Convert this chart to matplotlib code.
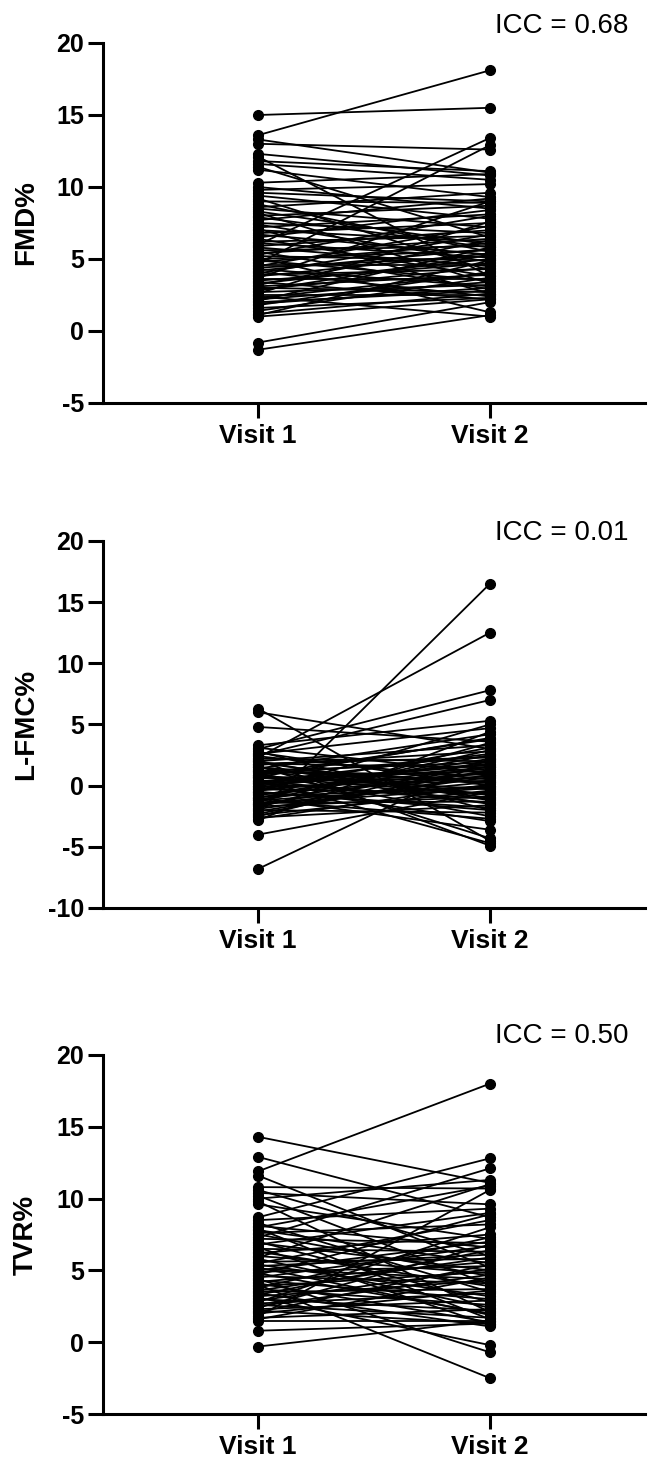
import matplotlib
matplotlib.use("Agg")
import matplotlib.pyplot as plt
import numpy as np

plt.rcParams['font.family'] = ['Liberation Sans', 'DejaVu Sans']

visits = ['Visit 1', 'Visit 2']

# FMD% (visit 1, visit 2) per subject
fmd_v1 = [15.0, 13.6, 13.3, 13.0, 12.3, 12.1, 11.8, 11.6, 11.4, 11.2, 10.3, 10.0, 9.8, 9.6,
          9.4, 9.2, 9.0, 8.8, 8.6, 8.5, 8.3, 8.2, 8.0, 7.9, 7.7, 7.5, 7.4, 7.2, 7.1, 7.0,
          6.8, 6.7, 6.5, 6.4, 6.2, 6.1, 6.0, 5.9, 5.8, 5.6, 5.5, 5.4, 5.3, 5.2, 5.1, 5.0,
          4.9, 4.8, 4.7, 4.6, 4.5, 4.4, 4.3, 4.2, 4.1, 4.0, 3.9, 3.8, 3.7, 3.6, 3.5, 3.4,
          3.3, 3.2, 3.1, 3.0, 2.9, 2.8, 2.7, 2.6, 2.5, 2.4, 2.3, 2.2, 2.1, 2.0, 1.9, 1.8,
          1.6, 1.4, 1.2, 1.1, 1.0, -0.8, -1.3]
fmd_v2 = [15.5, 18.1, 11.0, 12.6, 10.8, 3.8, 11.1, 10.5, 6.5, 9.3, 10.9, 8.5, 10.2, 9.0,
          7.8, 4.2, 8.9, 5.5, 9.6, 7.2, 6.0, 3.3, 8.7, 5.8, 9.2, 6.8, 4.8, 8.1, 2.6, 6.2,
          7.5, 5.3, 8.4, 3.8, 6.6, 5.1, 13.4, 7.0, 4.5, 5.9, 2.9, 6.4, 8.0, 4.9, 1.3, 5.6,
          3.5, 6.1, 12.9, 4.6, 7.3, 5.2, 3.1, 5.7, 2.4, 6.7, 4.3, 5.4, 9.0, 3.6, 4.7, 2.2,
          5.0, 6.3, 3.9, 2.7, 4.4, 5.3, 3.2, 7.6, 2.5, 1.0, 4.0, 3.4, 5.8, 2.8, 3.0, 4.1,
          2.3, 3.7, 2.6, 4.9, 2.2, 2.0, 1.1]

# L-FMC% (visit 1, visit 2) per subject
lfmc_v1 = [6.3, 6.0, 4.8, 3.3, 3.1, 3.0, 2.8, 2.6, 2.5, 2.4, 2.3, 2.2, 2.1, 2.0, 1.9, 1.8,
           1.7, 1.6, 1.5, 1.4, 1.3, 1.2, 1.1, 1.0, 0.9, 0.8, 0.7, 0.6, 0.5, 0.4, 0.3, 0.2,
           0.1, 0.0, -0.1, -0.2, -0.3, -0.4, -0.5, -0.6, -0.7, -0.8, -0.9, -1.0, -1.1, -1.2,
           -1.3, -1.4, -1.5, -1.6, -1.7, -1.8, -1.9, -2.0, -2.2, -2.3, -2.4, -2.5, -2.6, -2.7,
           -2.8, -4.0, -6.8, 2.7, 1.5, 0.9, 0.2, -0.5, -1.0, -1.5, 0.4, 1.2, -0.3, 2.0, -2.1,
           0.7, 1.8, -1.2, 0.0]
lfmc_v2 = [-4.5, 3.0, 3.6, 5.3, 1.0, 7.8, -2.0, 4.7, 7.0, 0.5, 12.5, 2.0, -4.9, 3.3, -0.8, 1.5,
           2.8, -4.3, 0.2, 4.2, -1.5, 1.9, 0.9, -2.5, 2.4, -0.3, 3.9, 1.2, -4.7, 0.6, 2.6, -1.1,
           1.7, -2.9, 0.4, 3.1, -0.6, 1.4, 5.0, -1.8, 0.8, 2.2, -0.1, -3.6, 1.1, 0.0,
           2.9, -1.3, 0.3, 1.6, -0.9, 3.5, 0.7, -2.2, 16.5, 1.3, -0.4, 2.1, -1.6, 0.1,
           4.4, -0.5, 2.2, 0.0, -1.0, 3.8, 1.8, -2.0, 2.5, -0.2, -1.4, 0.3, 1.0, -1.2, 0.9,
           -0.7, 2.3, -2.7, 1.5]

# TVR% (visit 1, visit 2) per subject
tvr_v1 = [14.3, 12.9, 11.9, 11.6, 10.8, 10.6, 10.4, 10.2, 10.0, 9.8, 9.6, 8.7, 8.5, 8.3, 8.1,
          8.0, 7.9, 7.8, 7.6, 7.5, 7.3, 7.2, 7.0, 6.9, 6.8, 6.6, 6.5, 6.3, 6.2, 6.0, 5.9, 5.8,
          5.6, 5.5, 5.4, 5.3, 5.2, 5.1, 5.0, 4.9, 4.8, 4.7, 4.6, 4.5, 4.4, 4.3, 4.2, 4.1, 4.0,
          3.9, 3.8, 3.7, 3.6, 3.5, 3.4, 3.3, 3.2, 3.1, 3.0, 2.9, 2.8, 2.7, 2.6, 2.5, 2.4, 2.3,
          2.2, 2.1, 2.0, 1.8, 1.7, 1.6, 1.5, 0.8, -0.3]
tvr_v2 = [11.1, 8.7, 18.0, 5.2, 10.7, 6.0, 9.6, 4.0, 11.3, 2.1, 7.2, 12.8, 9.3, 3.5, 6.6,
          10.9, 1.6, 5.5, 8.2, 4.6, 12.1, 6.9, 2.8, 5.0, 9.0, 1.2, 6.3, 3.9, 7.5, 4.8, 11.0, 2.4,
          5.8, 8.5, 3.2, 6.1, 1.9, 4.4, 7.0, 5.3, 2.0, 8.9, 4.1, 6.7, -0.7, 3.0, 5.6, 1.4, -2.5,
          4.9, 7.3, 2.6, 5.9, 3.7, 1.1, 6.4, 4.3, -0.2, 2.2, 5.1, 8.0, 3.4, 1.7, 4.7, 6.8, 2.9,
          1.3, 5.4, 3.6, 10.6, 2.3, 4.5, 1.5, 1.3, 1.5]

panels = [
    (fmd_v1, fmd_v2, 'FMD%', 'ICC = 0.68', [-5, 0, 5, 10, 15, 20], (43, 403), 33),
    (lfmc_v1, lfmc_v2, 'L-FMC%', 'ICC = 0.01', [-10, -5, 0, 5, 10, 15, 20], (541, 908), 540),
    (tvr_v1, tvr_v2, 'TVR%', 'ICC = 0.50', [-5, 0, 5, 10, 15, 20], (1055, 1414), 1043),
]

W, H = 654, 1461
fig = plt.figure(figsize=(W / 100, H / 100), dpi=100)

for v1, v2, ylab, icc, yt, (top, bot), icc_y in panels:
    ax = fig.add_axes([103 / W, 1 - bot / H, 542 / W, (bot - top) / H])
    v1 = np.array(v1)
    v2 = np.array(v2)
    xs = np.vstack([np.zeros(len(v1)), np.ones(len(v2))])
    ys = np.vstack([v1, v2])
    ax.plot(xs, ys, color='black', lw=1.3, marker='o', markersize=7, zorder=3)
    ax.set_xlim(-0.67, 1.67)
    ax.set_ylim(yt[0], yt[-1])
    ax.set_xticks([0, 1])
    ax.set_xticklabels(visits, fontsize=19, fontweight='bold')
    ax.set_yticks(yt)
    ax.set_yticklabels([str(t) for t in yt], fontsize=18, fontweight='bold')
    ax.set_ylabel(ylab, fontsize=20, fontweight='bold')
    ax.yaxis.set_label_coords(-0.118, 0.5)
    for s in ['top', 'right']:
        ax.spines[s].set_visible(False)
    for s in ['left', 'bottom']:
        ax.spines[s].set_linewidth(2.2)
    ax.tick_params(axis='both', direction='out', length=10.8, width=2.2, pad=3)
    ax.tick_params(axis='x', pad=4)
    fig.text(495 / W, 1 - icc_y / H, icc, fontsize=20, ha='left', va='baseline')

fig.savefig('out.png', dpi=100)
